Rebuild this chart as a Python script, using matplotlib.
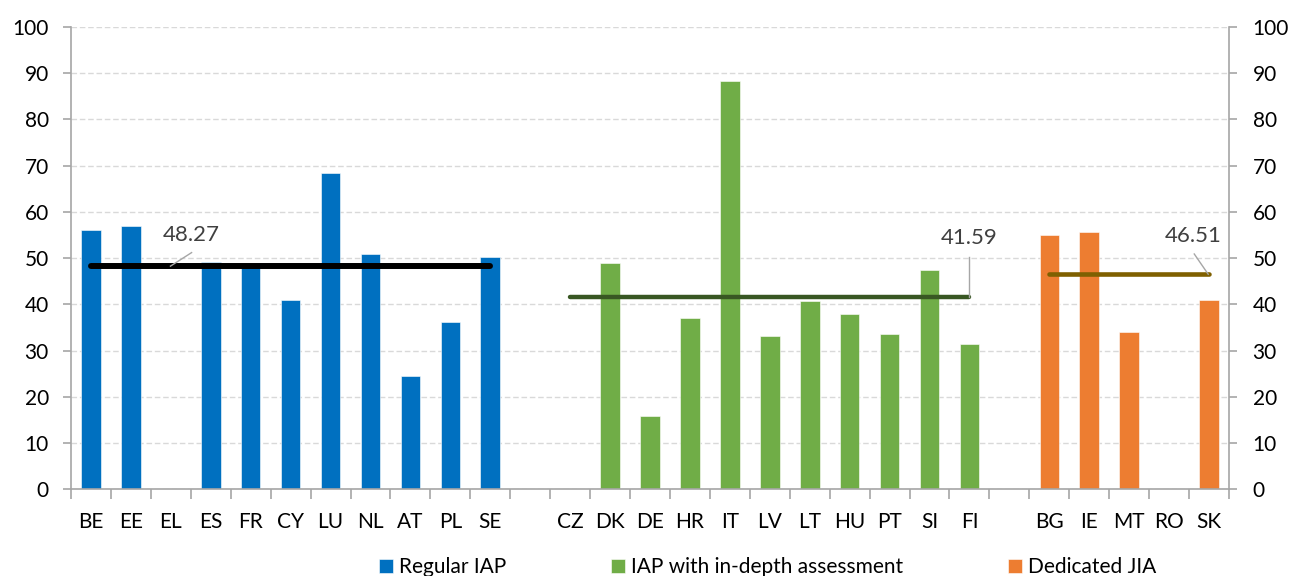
import matplotlib.pyplot as plt
from matplotlib.ticker import FixedLocator

plt.rcParams['font.family'] = ['Lato', 'DejaVu Sans']

# scores per member state, by type of assessment
regular_countries = ['BE', 'EE', 'EL', 'ES', 'FR', 'CY', 'LU', 'NL', 'AT', 'PL', 'SE']
regular_values = [56.0, 57.0, 0, 49.2, 48.0, 40.9, 68.4, 51.0, 24.5, 36.1, 50.3]

indepth_countries = ['CZ', 'DK', 'DE', 'HR', 'IT', 'LV', 'LT', 'HU', 'PT', 'SI', 'FI']
indepth_values = [0, 49.0, 15.9, 37.1, 88.4, 33.2, 40.8, 37.9, 33.7, 47.5, 31.4]

jia_countries = ['BG', 'IE', 'MT', 'RO', 'SK']
jia_values = [54.9, 55.7, 34.0, 0, 41.0]

group_names = ['Regular IAP', 'IAP with in-depth assessment', 'Dedicated JIA']
group_averages = [48.27, 41.59, 46.51]

bar_colors = ['#0070C0', '#70AD47', '#ED7D31']
avg_colors = ['#000000', '#385723', '#7F6000']
avg_widths = [4.3, 3.2, 3.3]

groups = [(regular_countries, regular_values),
          (indepth_countries, indepth_values),
          (jia_countries, jia_values)]

# one empty slot between groups on the category axis
categories = []
for i, (names, _) in enumerate(groups):
    if i > 0:
        categories.append('')
    categories += names

fig = plt.figure(figsize=(12.92, 5.76), dpi=100)
ax = fig.add_axes([71 / 1292, 86.7 / 576, 1158 / 1292, 462.3 / 576])

axis_gray = '#A6A6A6'
start = 0
for i, (names, values) in enumerate(groups):
    xs = list(range(start, start + len(names)))
    ax.bar(xs, values, width=0.49, color=bar_colors[i], label=group_names[i],
           edgecolor='white', linewidth=0.4, zorder=2)
    # group average drawn across the group
    ax.plot([xs[0], xs[-1]], [group_averages[i]] * 2, color=avg_colors[i],
            lw=avg_widths[i], solid_capstyle='round', zorder=3)
    start += len(names) + 1

# average value labels with leader lines
label_text_pos = [(2.5, 55.1), (22.0, 54.3), (27.6, 54.8)]
leader_from = [(1.99, 48.27), (22.0, 41.59), (27.98, 46.51)]
leader_to = [(2.52, 51.2), (22.0, 50.3), (27.63, 50.9)]
for i, avg in enumerate(group_averages):
    (x0, y0), (x1, y1) = leader_from[i], leader_to[i]
    ax.plot([x0, x1], [y0, y1], color=axis_gray, lw=1, zorder=3)
    ax.text(label_text_pos[i][0], label_text_pos[i][1], f'{avg:.2f}',
            ha='center', va='center', fontsize=16, color='#404040', zorder=4)

ax.set_xlim(-0.5, len(categories) - 0.5)
ax.set_ylim(0, 100)
ax.set_yticks(range(0, 101, 10))
ax.set_xticks(range(len(categories)))
ax.set_xticklabels(categories)
ax.xaxis.set_minor_locator(FixedLocator([k - 0.5 for k in range(len(categories) + 1)]))
ax.tick_params(axis='x', which='major', length=0, pad=16, labelsize=15)
ax.tick_params(axis='x', which='minor', length=7, width=1.2, color=axis_gray, direction='out')
ax.tick_params(axis='y', length=6, width=1.2, color=axis_gray, pad=10, labelsize=15)

ax.grid(axis='y', color='#D9D9D9', linestyle=(0, (4, 2)), lw=1, zorder=0)
ax.set_axisbelow(True)
for side in ['top', 'right']:
    ax.spines[side].set_visible(False)
for side in ['left', 'bottom']:
    ax.spines[side].set_color(axis_gray)
    ax.spines[side].set_linewidth(1.2)

# same scale repeated on the right
ax2 = ax.twinx()
ax2.set_ylim(0, 100)
ax2.set_yticks(range(0, 101, 10))
ax2.tick_params(axis='y', length=6, width=1.2, color=axis_gray, pad=11, labelsize=15)
for side in ['top', 'left', 'bottom']:
    ax2.spines[side].set_visible(False)
ax2.spines['right'].set_color(axis_gray)
ax2.spines['right'].set_linewidth(1.2)

handles, labels = ax.get_legend_handles_labels()
fig.legend(handles, labels, loc='center left', bbox_to_anchor=(379 / 1292, 9 / 576),
           ncol=3, frameon=False, fontsize=15, handlelength=0.68, handleheight=0.68,
           handletextpad=0.3, columnspacing=5.0, borderpad=0, borderaxespad=0)

fig.savefig('out.png', dpi=100)
